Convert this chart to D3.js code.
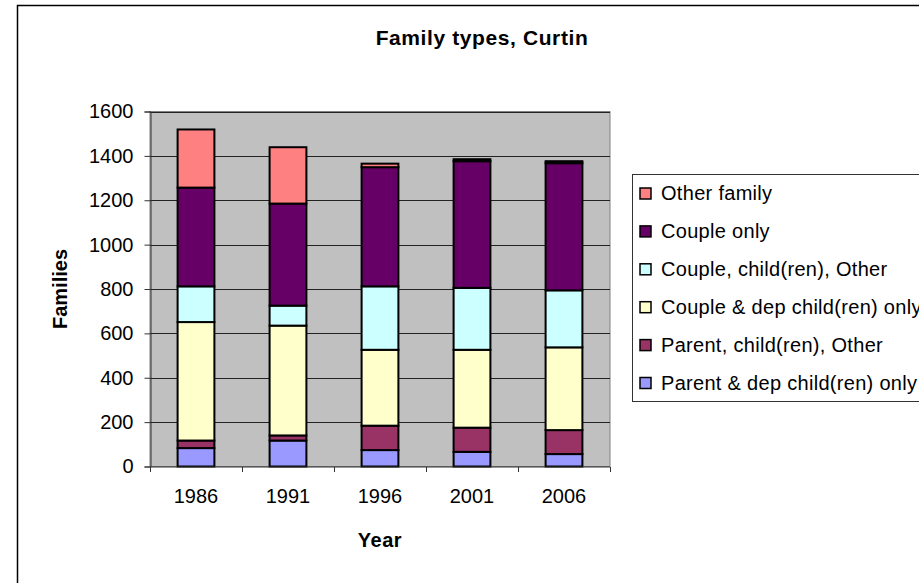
<!DOCTYPE html>
<html>
<head>
<meta charset="utf-8">
<script src="https://cdn.jsdelivr.net/npm/d3@7"></script>
<style>
body { margin: 0; background: #fff; }
svg { display: block; font-family: "Liberation Sans", Arial, sans-serif; }
</style>
</head>
<body>
<svg width="919" height="583"></svg>
<script>
// values (families per census year)
var years = ["1986", "1991", "1996", "2001", "2006"];
var parentDep = [83, 117, 74, 66, 56];
var parentOther = [34, 23, 110, 109, 108];
var coupleDep = [534, 495, 342, 351, 373];
var coupleOther = [161, 90, 286, 279, 257];
var coupleOnly = [445, 460, 537, 571, 573];
var otherFamily = [262, 254, 16, 9, 9];
var yTicks = [0, 200, 400, 600, 800, 1000, 1200, 1400, 1600];

var keys = ["Parent & dep child(ren) only", "Parent, child(ren), Other",
	"Couple & dep child(ren) only", "Couple, child(ren), Other",
	"Couple only", "Other family"];
var series = [parentDep, parentOther, coupleDep, coupleOther, coupleOnly, otherFamily];
var colors = ["#9999ff", "#993366", "#ffffcc", "#ccffff", "#660066", "#ff8080"];

var data = years.map(function (yr, i) {
	var d = { year: yr };
	keys.forEach(function (k, j) { d[k] = series[j][i]; });
	return d;
});

var svg = d3.select("svg");
var plotLeft = 150, plotRight = 610, plotTop = 111.5, plotBottom = 466.5;

var x = d3.scaleBand()
	.domain(years)
	.range([plotLeft, plotRight])
	.paddingInner(0.6)
	.paddingOuter(0.3);

var y = d3.scaleLinear()
	.domain([0, 1600])
	.range([plotBottom, plotTop]);

var z = d3.scaleOrdinal().domain(keys).range(colors);

// outer chart frame
svg.append("rect")
	.attr("x", 17.5).attr("y", 5.5)
	.attr("width", 1000).attr("height", 1000)
	.attr("fill", "#fff")
	.attr("stroke", "#000")
	.attr("stroke-width", 1.5);

svg.append("text")
	.attr("x", 482).attr("y", 45)
	.attr("text-anchor", "middle")
	.attr("font-size", 21)
	.attr("font-weight", "bold")
	.attr("letter-spacing", 0.6)
	.text("Family types, Curtin");

// plot area
svg.append("rect")
	.attr("x", plotLeft).attr("y", plotTop)
	.attr("width", plotRight - plotLeft).attr("height", plotBottom - plotTop)
	.attr("fill", "#c0c0c0")
	.attr("stroke", "#808080")
	.attr("stroke-width", 1);

svg.append("g")
	.selectAll("line")
	.data(yTicks.slice(1))
	.enter().append("line")
	.attr("x1", plotLeft).attr("x2", plotRight)
	.attr("y1", function (d) { return Math.round(y(d)) + 0.5; })
	.attr("y2", function (d) { return Math.round(y(d)) + 0.5; })
	.attr("stroke", "#222")
	.attr("stroke-width", 1);

svg.append("g")
	.selectAll("g")
	.data(d3.stack().keys(keys)(data))
	.enter().append("g")
	.attr("fill", function (d) { return z(d.key); })
	.selectAll("rect")
	.data(function (d) { return d; })
	.enter().append("rect")
	.attr("x", function (d) { return x(d.data.year); })
	.attr("y", function (d) { return y(d[1]); })
	.attr("width", x.bandwidth())
	.attr("height", function (d) { return y(d[0]) - y(d[1]); })
	.attr("stroke", "#000")
	.attr("stroke-width", 2);

// y axis
var yAxis = svg.append("g")
	.attr("transform", "translate(" + (plotLeft + 0.5) + ",0)")
	.call(d3.axisLeft(y).tickValues(yTicks).tickFormat(d3.format("d")).tickSize(6).tickPadding(11));
yAxis.selectAll("text").attr("font-size", 20).attr("fill", "#000").attr("font-family", null);
yAxis.selectAll("line, path").attr("stroke", "#333");

// x axis: labels at band centres, ticks on category boundaries
var xAxis = svg.append("g")
	.attr("transform", "translate(0," + (plotBottom + 0.5) + ")")
	.call(d3.axisBottom(x).tickSize(0).tickPadding(22));
xAxis.selectAll("text").attr("font-size", 20).attr("fill", "#000").attr("font-family", null);
xAxis.select("path").attr("d", "M" + plotLeft + ",0H" + plotRight).attr("stroke", "#333");
var step = x.step();
xAxis.append("g")
	.selectAll("line")
	.data(d3.range(years.length + 1))
	.enter().append("line")
	.attr("x1", function (i) { return Math.round(plotLeft + i * step) + 0.5; })
	.attr("x2", function (i) { return Math.round(plotLeft + i * step) + 0.5; })
	.attr("y1", 0).attr("y2", 5)
	.attr("stroke", "#333");

svg.append("text")
	.attr("transform", "translate(67,289) rotate(-90)")
	.attr("text-anchor", "middle")
	.attr("font-size", 20)
	.attr("font-weight", "bold")
	.text("Families");

svg.append("text")
	.attr("x", 380).attr("y", 547)
	.attr("text-anchor", "middle")
	.attr("font-size", 20)
	.attr("font-weight", "bold")
	.attr("letter-spacing", 0.5)
	.text("Year");

// legend
svg.append("rect")
	.attr("x", 632.5).attr("y", 174.5)
	.attr("width", 400).attr("height", 227)
	.attr("fill", "#fff")
	.attr("stroke", "#333")
	.attr("stroke-width", 1);

var legend = svg.append("g")
	.attr("font-size", 20)
	.selectAll("g")
	.data(keys.slice().reverse())
	.enter().append("g")
	.attr("transform", function (d, i) {
		return "translate(640," + (193 + i * 37.9) + ")";
	});

legend.append("rect")
	.attr("x", 0).attr("y", -5)
	.attr("width", 11).attr("height", 11)
	.attr("fill", z)
	.attr("stroke", "#000")
	.attr("stroke-width", 1.5);

legend.append("text")
	.attr("x", 21)
	.attr("y", 0)
	.attr("dy", "0.35em")
	.attr("letter-spacing", 0.3)
	.text(function (d) { return d; });
</script>
</body>
</html>
